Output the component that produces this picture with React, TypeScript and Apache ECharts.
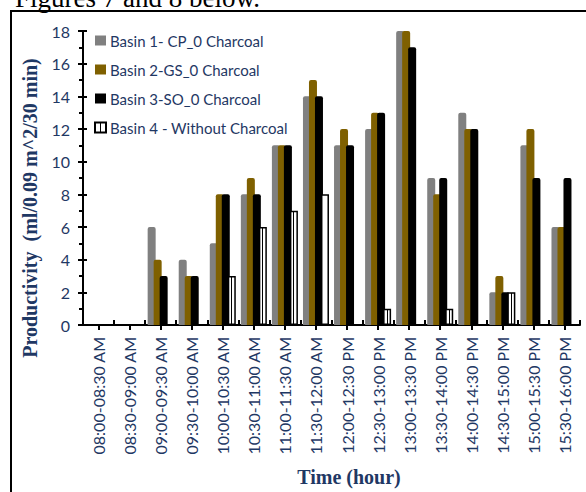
import React, { useEffect, useRef } from "react";
import * as echarts from "echarts";

const timeSlots = [
  "08:00-08:30 AM",
  "08:30-09:00 AM",
  "09:00-09:30 AM",
  "09:30-10:00 AM",
  "10:00-10:30 AM",
  "10:30-11:00 AM",
  "11:00-11:30 AM",
  "11:30-12:00 AM",
  "12:00-12:30 PM",
  "12:30-13:00 PM",
  "13:00-13:30 PM",
  "13:30-14:00 PM",
  "14:00-14:30 PM",
  "14:30-15:00 PM",
  "15:00-15:30 PM",
  "15:30-16:00 PM",
];

const basin1CP = [0, 0, 6, 4, 5, 8, 11, 14, 11, 12, 18, 9, 13, 2, 11, 6];
const basin2GS = [0, 0, 4, 3, 8, 9, 11, 15, 12, 13, 18, 8, 12, 3, 12, 6];
const basin3SO = [0, 0, 3, 3, 8, 8, 11, 14, 11, 13, 17, 9, 12, 2, 9, 9];
const basin4None = [0, 0, 0, 0, 3, 6, 7, 8, 0, 1, 0, 1, 0, 2, 0, 0];

const seriesNames = [
  "Basin 1- CP_0 Charcoal",
  "Basin 2-GS_0 Charcoal",
  "Basin 3-SO_0 Charcoal",
  "Basin 4 - Without Charcoal",
];

const NAVY = "#1f3864";
const SANS = "Lato, 'Open Sans', sans-serif";
const SERIF = "'Liberation Serif', 'Times New Roman', serif";

export default function App() {
  const ref = useRef<HTMLDivElement>(null);

  useEffect(() => {
    if (!ref.current) return;
    const chart = echarts.init(ref.current, undefined, { renderer: "svg" });

    // white bar with a thin dark stripe down the middle
    const stripedFill = new echarts.graphic.LinearGradient(0, 0, 1, 0, [
      { offset: 0, color: "#ffffff" },
      { offset: 0.43, color: "#ffffff" },
      { offset: 0.43, color: "#000000" },
      { offset: 0.57, color: "#000000" },
      { offset: 0.57, color: "#ffffff" },
      { offset: 1, color: "#ffffff" },
    ]);

    const barCommon = {
      type: "bar" as const,
      barWidth: 8,
      barGap: "-25%",
      xAxisIndex: 0,
      yAxisIndex: 0,
    };

    const yCommon = {
      type: "value" as const,
      min: 0,
      max: 18,
      interval: 2,
      position: "left" as const,
      splitLine: { show: false },
    };

    chart.setOption({
      animation: false,
      backgroundColor: "#ffffff",
      grid: { left: 83, right: 6, top: 31, bottom: 167, containLabel: false },
      legend: {
        orient: "vertical",
        left: 94,
        top: 33,
        padding: 0,
        itemWidth: 11,
        itemHeight: 10,
        itemGap: 14,
        icon: "rect",
        textStyle: {
          color: NAVY,
          fontFamily: SANS,
          fontSize: 15,
          padding: [0, 0, 0, -1],
        },
        data: seriesNames,
      },
      xAxis: [
        {
          // ticks at category boundaries, pointing up into the plot
          type: "category",
          data: timeSlots,
          position: "bottom",
          axisLine: { show: true, lineStyle: { color: "#000", width: 2 } },
          axisTick: {
            show: true,
            inside: true,
            interval: 0,
            length: 5,
            lineStyle: { color: "#000", width: 2 },
          },
          axisLabel: {
            rotate: 90,
            interval: 0,
            margin: 12,
            color: NAVY,
            fontFamily: SANS,
            fontSize: 16,
          },
        },
        {
          // ticks under each category centre
          type: "category",
          data: timeSlots,
          position: "bottom",
          axisLine: { show: false },
          axisTick: {
            show: true,
            alignWithLabel: true,
            interval: 0,
            length: 5,
            lineStyle: { color: "#000", width: 2 },
          },
          axisLabel: { show: true, interval: 0, color: "transparent", fontSize: 1 },
        },
      ],
      yAxis: [
        {
          ...yCommon,
          axisLine: { show: true, lineStyle: { color: "#000", width: 2 } },
          axisTick: { show: true, length: 5, lineStyle: { color: "#000", width: 2 } },
          minorTick: { show: true, splitNumber: 2, length: 4, lineStyle: { color: "#000", width: 2 } },
          axisLabel: { color: NAVY, fontFamily: SANS, fontSize: 16, margin: 13 },
        },
        {
          ...yCommon,
          axisLine: { show: false },
          axisTick: { show: true, inside: true, length: 4, lineStyle: { color: "#000", width: 2 } },
          axisLabel: { show: false },
        },
      ],
      series: [
        {
          ...barCommon,
          name: seriesNames[0],
          data: basin1CP,
          itemStyle: { color: "#808080", borderRadius: [2, 2, 0, 0] },
        },
        {
          ...barCommon,
          name: seriesNames[1],
          data: basin2GS,
          itemStyle: { color: "#7f6000", borderRadius: [2, 2, 0, 0] },
        },
        {
          ...barCommon,
          name: seriesNames[2],
          data: basin3SO,
          itemStyle: { color: "#000000", borderRadius: [2, 2, 0, 0] },
        },
        {
          ...barCommon,
          name: seriesNames[3],
          data: basin4None,
          itemStyle: { color: stripedFill, borderColor: "#000000", borderWidth: 1.5 },
        },
      ],
      graphic: [
        {
          type: "text",
          left: 15,
          top: -16,
          style: {
            text: "Figures 7 and 8 below.",
            fill: "#000",
            font: `27px ${SERIF}`,
          },
        },
        {
          type: "polyline",
          shape: { points: [[11, 492], [11, 11], [586, 11]] },
          style: { stroke: "#000", lineWidth: 2, fill: "none" },
        },
        {
          type: "text",
          x: 30,
          y: 208,
          rotation: Math.PI / 2,
          style: {
            text: "Productivity  (ml/0.09 m^2/30 min)",
            fill: NAVY,
            font: `bold 20px ${SERIF}`,
            align: "center",
            verticalAlign: "middle",
          },
        },
        {
          type: "text",
          x: 349,
          y: 477,
          style: {
            text: "Time (hour)",
            fill: NAVY,
            font: `bold 20px ${SERIF}`,
            align: "center",
            verticalAlign: "middle",
          },
        },
      ],
    });

    return () => chart.dispose();
  }, []);

  return (
    <div
      ref={ref}
      style={{ position: "fixed", left: 0, top: 0, width: 586, height: 492, background: "#fff" }}
    />
  );
}
